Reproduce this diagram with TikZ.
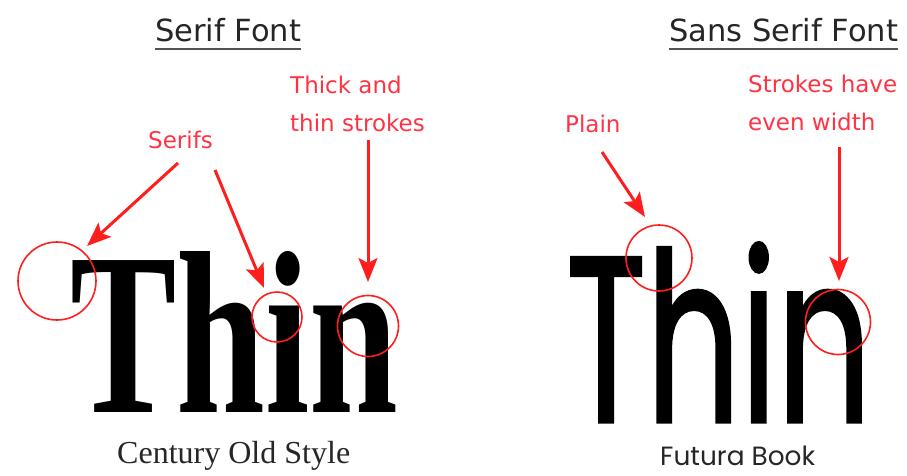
\documentclass[tikz,border=0pt]{standalone}
\usepackage{fontspec}
\usetikzlibrary{arrows.meta}
\newfontfamily\labfont{DejaVu Sans}
\newfontfamily\geofont{Poppins}
\newfontfamily\geoheavy[FakeBold=1.6]{Poppins}
\newfontfamily\timesfont{Liberation Serif}
\definecolor{annred}{HTML}{FF1E1E}
\definecolor{labred}{HTML}{FF3344}
\definecolor{titlegray}{HTML}{262626}
\tikzset{
  lab/.style={text=labred, font=\labfont\fontsize{23}{38}\selectfont, inner sep=0pt, align=left},
  ttl/.style={text=titlegray, font=\labfont\fontsize{30.5}{36}\selectfont, inner sep=0pt, anchor=base west},
  uline/.style={draw=titlegray!80, line width=2.6pt},
  pointer/.style={draw=annred, line width=3pt, -{Stealth[length=24pt,width=19pt,inset=5pt]}},
  ring/.style={circle, draw=annred, line width=1.6pt, inner sep=0pt},
  big/.style={inner sep=0pt, anchor=south west},
}
\begin{document}
\begin{tikzpicture}[x=1pt,y=-1pt]
\useasboundingbox[fill=white] (0,0) rectangle (907,475);
% titles
\node[ttl] (t1) at (155,41) {Serif Font};
\draw[uline] (t1.base west) ++(0,8) coordinate (u1a) -- (t1.base east |- u1a);
\node[ttl] (t2) at (669,41) {Sans Serif Font};
\draw[uline] (t2.base west) ++(0,8) coordinate (u2a) -- (t2.base east |- u2a);
% big words
\node[big] (w1) at (70,413) {\resizebox{328pt}{161pt}{\timesfont\bfseries Thin}};
\node[big] (w2) at (566,422) {\resizebox{305pt}{179pt}{\geoheavy Thin}};
% captions
\node[big, anchor=base west, text=titlegray] (c1) at (117,463) {\resizebox{233pt}{!}{\timesfont Century Old Style}};
\node[big, anchor=base west, text=titlegray] (c2) at (660,465) {\resizebox{155pt}{!}{\geofont Futura Book}};
% labels (multi-line nodes sit on the baseline of their last line)
\node[lab, anchor=base west] (serifs) at (148,148) {Serifs};
\node[lab, anchor=base west] (thick) at (290,131) {Thick and\\thin strokes};
\node[lab, anchor=base west] (plain) at (565,132) {Plain};
\node[lab, anchor=base west] (even) at (748,130) {Strokes have\\even width};
% circles
\node[ring, minimum size=78pt] (r1) at (57,281) {};
\node[ring, minimum size=50pt] (r2) at (277,317) {};
\node[ring, minimum size=61pt] (r3) at (368,326) {};
\node[ring, minimum size=66pt] (r4) at (659,258) {};
\node[ring, minimum size=65pt] (r5) at (838,322) {};
% arrow ends
\coordinate (a1s) at (178,163);
\coordinate (a1e) at (87,246);
\coordinate (a2s) at (215,170);
\coordinate (a2e) at (264,288);
\coordinate (a3s) at (368,140);
\coordinate (a3e) at (368,282);
\coordinate (a4s) at (602,152);
\coordinate (a4e) at (645,217);
\coordinate (a5s) at (839,147);
\coordinate (a5e) at (839,281);
\draw[pointer] (a1s) -- (a1e);
\draw[pointer] (a2s) -- (a2e);
\draw[pointer] (a3s) -- (a3e);
\draw[pointer] (a4s) -- (a4e);
\draw[pointer] (a5s) -- (a5e);
\end{tikzpicture}
\end{document}
